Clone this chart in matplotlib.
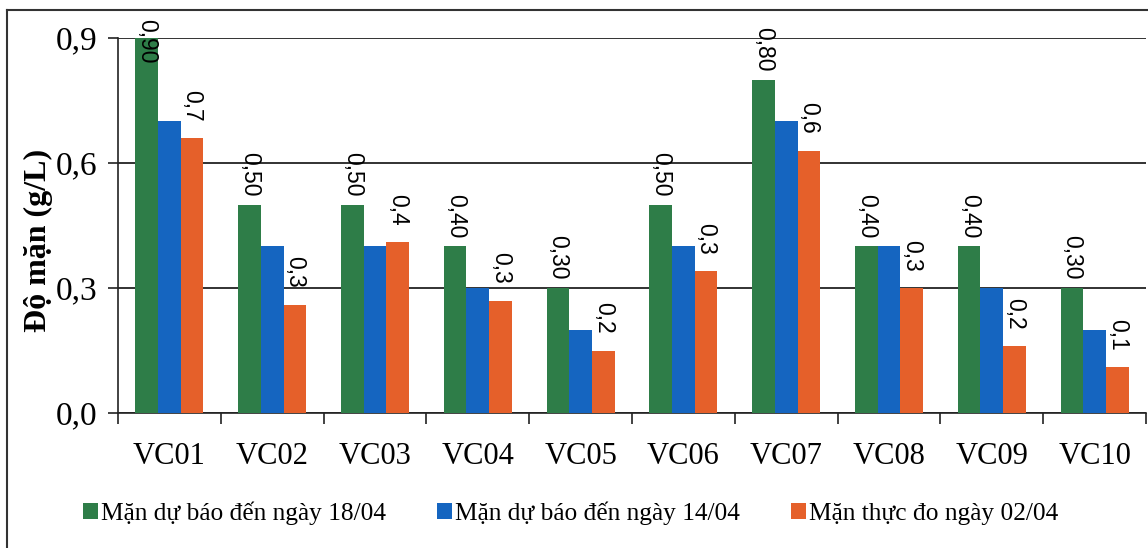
import matplotlib.pyplot as plt
import matplotlib.ticker as ticker
from matplotlib.lines import Line2D
from decimal import Decimal, ROUND_HALF_UP
import numpy as np

# data
stations = ['VC01', 'VC02', 'VC03', 'VC04', 'VC05', 'VC06', 'VC07', 'VC08', 'VC09', 'VC10']
forecast_1804 = [0.90, 0.50, 0.50, 0.40, 0.30, 0.50, 0.80, 0.40, 0.40, 0.30]
forecast_1404 = [0.70, 0.40, 0.40, 0.30, 0.20, 0.40, 0.70, 0.40, 0.30, 0.20]
measured_0204 = [0.66, 0.26, 0.41, 0.27, 0.15, 0.34, 0.63, 0.30, 0.16, 0.11]
series_names = ['Mặn dự báo đến ngày 18/04', 'Mặn dự báo đến ngày 14/04', 'Mặn thực đo ngày 02/04']
y_ticks = [0.0, 0.3, 0.6, 0.9]

colors = ['#2e7d48', '#1565c0', '#e5602a']
serif = 'Liberation Serif'
sans = 'Liberation Sans'


def vn_num(v, nd):
    # Excel style rounding (half up) with a decimal comma
    q = Decimal(str(v)).quantize(Decimal(1).scaleb(-nd), rounding=ROUND_HALF_UP)
    return str(q).replace('.', ',')


fig = plt.figure(figsize=(11.48, 5.48), dpi=100)
ax = fig.add_axes([118 / 1148, 1 - 413 / 548, 1028 / 1148, 375 / 548])

x = np.arange(len(stations))
width = 0.22
series = [forecast_1804, forecast_1404, measured_0204]
bar_groups = []
for k, (vals, col, name) in enumerate(zip(series, colors, series_names)):
    bars = ax.bar(x + (k - 1) * width, vals, width, color=col, label=name, zorder=3)
    bar_groups.append(bars)

ax.set_xlim(-0.5, len(stations) - 0.5)
ax.set_ylim(0, 0.9)

ax.yaxis.set_major_locator(ticker.FixedLocator(y_ticks))
ax.yaxis.set_major_formatter(ticker.FuncFormatter(lambda v, pos: vn_num(v, 1)))
ax.yaxis.grid(True, color='#222222', linewidth=1.3, zorder=0)
ax.set_axisbelow(True)

# ticks between categories, labels at the centres
ax.xaxis.set_major_locator(ticker.FixedLocator(np.arange(-0.5, len(stations), 1.0)))
ax.xaxis.set_major_formatter(ticker.NullFormatter())
ax.xaxis.set_minor_locator(ticker.FixedLocator(x))
ax.xaxis.set_minor_formatter(ticker.FixedFormatter(stations))
ax.tick_params(axis='x', which='major', length=8, width=1.2, color='#222222')
ax.tick_params(axis='x', which='minor', length=0, pad=21, labelsize=22)
ax.tick_params(axis='y', length=7, width=1.2, color='#222222', labelsize=24, pad=8)
for lab in ax.get_xticklabels(minor=True) + ax.get_yticklabels():
    lab.set_fontfamily(serif)

for s in ['top', 'right']:
    ax.spines[s].set_visible(False)
for s in ['left', 'bottom']:
    ax.spines[s].set_color('#222222')
    ax.spines[s].set_linewidth(1.2)

ax.set_ylabel('Độ mặn (g/L)', fontfamily=serif, fontweight='bold', fontsize=23)
ax.yaxis.set_label_coords(-0.063, 0.46)

# data labels: green with two decimals, orange with one decimal
ytop = ax.get_ylim()[1]
for bar, v in zip(bar_groups[0], forecast_1804):
    cx = bar.get_x() + bar.get_width() / 2
    if v >= ytop:
        ax.annotate(vn_num(v, 2), (cx, v), xytext=(0, -2), textcoords='offset points',
                    rotation=270, ha='center', va='center', fontsize=16.5, fontfamily=sans,
                    annotation_clip=False, zorder=5)
    else:
        ax.annotate(vn_num(v, 2), (cx, v), xytext=(0, 6), textcoords='offset points',
                    rotation=270, ha='center', va='bottom', fontsize=16.5, fontfamily=sans, zorder=5)
for bar, v in zip(bar_groups[2], measured_0204):
    cx = bar.get_x() + bar.get_width() / 2
    ax.annotate(vn_num(v, 1), (cx, v), xytext=(0, 12), textcoords='offset points',
                rotation=270, ha='center', va='bottom', fontsize=16.5, fontfamily=sans, zorder=5)

leg = fig.legend(loc='center', bbox_to_anchor=(0.497, 0.064), ncol=3, frameon=False,
                 prop={'family': serif, 'size': 18.3}, handlelength=0.6, handleheight=0.6,
                 handletextpad=0.12, columnspacing=2.0)

# chart area border (left and top edges visible)
fig.add_artist(Line2D([7 / 1148, 7 / 1148], [0, 1 - 10 / 548], transform=fig.transFigure,
                      color='#333333', linewidth=1.5))
fig.add_artist(Line2D([7 / 1148, 1], [1 - 10 / 548, 1 - 10 / 548], transform=fig.transFigure,
                      color='#333333', linewidth=1.5))

fig.savefig('out.png', dpi=100)
